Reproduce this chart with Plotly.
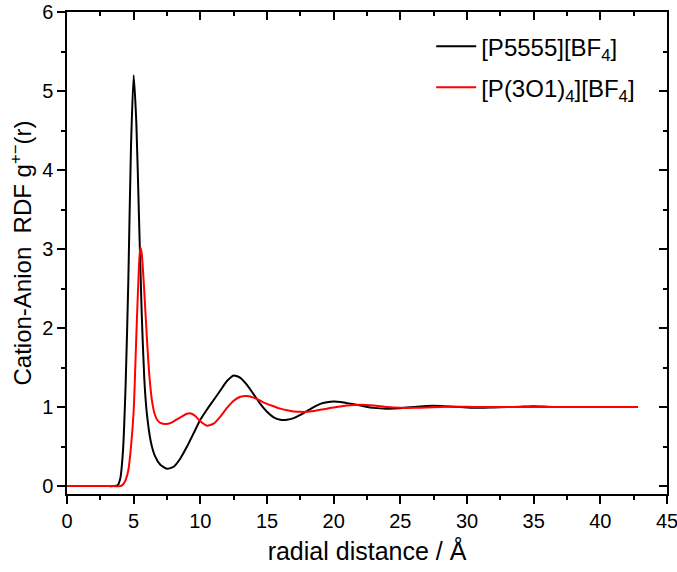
import plotly.graph_objects as go

# ---- data ----
r_p5555 = [0, 1, 2, 3, 3.5, 3.8, 4.0, 4.2, 4.4, 4.6, 4.8, 5.0, 5.2, 5.4, 5.6, 5.8, 6.0,
           6.3, 6.6, 7.0, 7.5, 8.0, 8.5, 9.0, 9.5, 10.0, 10.5, 11.0, 11.5, 12.0, 12.5,
           13.0, 13.5, 14.0, 14.5, 15.0, 15.5, 16.0, 16.5, 17.0, 17.5, 18.0, 18.5, 19.0,
           19.5, 20.0, 20.5, 21, 22, 23, 24, 25, 26, 27, 28, 29, 30, 31, 32, 33, 34, 35,
           36, 37, 38, 39, 40, 41, 42, 42.8]
g_p5555 = [0, 0, 0, 0, 0, 0.01, 0.1, 0.45, 1.3, 2.6, 4.3, 5.2, 4.6, 3.4, 2.2, 1.35, 0.9,
           0.55, 0.38, 0.27, 0.22, 0.245, 0.35, 0.5, 0.67, 0.84, 0.97, 1.09, 1.21, 1.33, 1.40,
           1.37, 1.28, 1.16, 1.04, 0.94, 0.87, 0.84, 0.84, 0.86, 0.9, 0.95, 1.0, 1.04,
           1.06, 1.07, 1.065, 1.05, 1.02, 0.99, 0.98, 0.985, 1.0, 1.015, 1.015, 1.005, 0.995,
           0.99, 0.995, 1.0, 1.005, 1.01, 1.005, 1.0, 1.0, 1.0, 1.0, 1.0, 1.0, 1.0]

r_p3o1 = [0, 1, 2, 3, 3.5, 4.0, 4.2, 4.4, 4.6, 4.8, 5.0, 5.2, 5.4, 5.5, 5.6, 5.8, 6.0,
          6.2, 6.4, 6.6, 6.8, 7.0, 7.4, 7.8, 8.2, 8.6, 9.0, 9.3, 9.6, 10.0, 10.5, 11.0,
          11.5, 12.0, 12.5, 13.0, 13.5, 14.0, 14.5, 15.0, 15.5, 16.0, 16.5, 17.0, 17.5,
          18.0, 18.5, 19.0, 19.5, 20.0, 21, 22, 23, 24, 25, 26, 27, 28, 29, 30, 31, 32,
          33, 34, 35, 36, 37, 38, 39, 40, 41, 42, 42.8]
g_p3o1 = [0, 0, 0, 0, 0, 0, 0.02, 0.08, 0.2, 0.5, 0.95, 1.9, 2.8, 3.02, 2.95, 2.45, 1.85,
          1.35, 1.05, 0.9, 0.83, 0.8, 0.785, 0.8, 0.84, 0.88, 0.915, 0.92, 0.89, 0.82, 0.765, 0.79,
          0.88, 0.99, 1.08, 1.13, 1.14, 1.12, 1.08, 1.04, 1.01, 0.98, 0.96, 0.945, 0.94,
          0.94, 0.95, 0.965, 0.98, 0.995, 1.02, 1.03, 1.02, 1.0, 0.99, 0.99, 0.995, 1.0,
          1.005, 1.005, 1.0, 1.0, 1.0, 1.0, 1.0, 1.0, 1.0, 1.0, 1.0, 1.0, 1.0, 1.0, 1.0]

x_ticks = [0, 5, 10, 15, 20, 25, 30, 35, 40, 45]
y_ticks = [0, 1, 2, 3, 4, 5, 6]

FONT = "Liberation Sans, Arial, sans-serif"

fig = go.Figure()
fig.add_trace(go.Scatter(x=r_p5555, y=g_p5555, mode="lines",
                         name="[P5555][BF<sub>4</sub>]", legendgroup="a",
                         line=dict(color="black", width=2, shape="spline", smoothing=0.6)))
fig.add_trace(go.Scatter(x=r_p3o1, y=g_p3o1, mode="lines",
                         name="[P(3O1)<sub>4</sub>][BF<sub>4</sub>]", legendgroup="b",
                         line=dict(color="red", width=2, shape="spline", smoothing=0.6)))
# dummy trace for the mirrored (inward-tick) top/right axes
fig.add_trace(go.Scatter(x=[None], y=[None], xaxis="x2", yaxis="y2",
                         showlegend=False, hoverinfo="skip"))

common = dict(showline=True, linecolor="black", linewidth=1.5, showgrid=False,
              zeroline=False, tickcolor="black", tickwidth=1.5, ticklen=8,
              automargin=False, ticklabeloverflow="allow",
              tickfont=dict(family=FONT, size=20, color="black"))

fig.update_layout(
    width=677, height=572,
    margin=dict(l=67, r=10, t=12, b=78),
    paper_bgcolor="white", plot_bgcolor="white",
    font=dict(family=FONT, color="black"),
    xaxis=dict(range=[0, 45], tickvals=x_ticks, ticks="outside",
               minor=dict(dtick=2.5, tick0=0, ticks="outside", ticklen=4,
                          tickwidth=1.5, tickcolor="black"),
               title=dict(text="radial distance / Å", font=dict(family=FONT, size=25),
                          standoff=12),
               **common),
    yaxis=dict(range=[-0.1, 6], tickvals=y_ticks, ticks="outside",
               minor=dict(dtick=0.5, tick0=0, ticks="outside", ticklen=4,
                          tickwidth=1.5, tickcolor="black"),
               title=dict(text="Cation-Anion  RDF g<sup>+−</sup>(r)",
                          font=dict(family=FONT, size=24), standoff=4),
               **common),
    xaxis2=dict(range=[0, 45], overlaying="x", side="top", anchor="y2",
                tickvals=x_ticks, ticks="inside", showticklabels=False,
                minor=dict(dtick=2.5, tick0=0, ticks="inside", ticklen=4,
                           tickwidth=1.5, tickcolor="black"),
                **common),
    yaxis2=dict(range=[-0.1, 6], overlaying="y", side="right", anchor="x2",
                tickvals=y_ticks, ticks="inside", showticklabels=False,
                minor=dict(dtick=0.5, tick0=0, ticks="inside", ticklen=4,
                           tickwidth=1.5, tickcolor="black"),
                **common),
    legend=dict(x=0.607, y=0.975, xanchor="left", yanchor="top",
                bgcolor="rgba(0,0,0,0)", borderwidth=0,
                font=dict(family=FONT, size=24, color="black"),
                tracegroupgap=7, itemwidth=40),
    showlegend=True,
)

fig.write_html("out.html")
